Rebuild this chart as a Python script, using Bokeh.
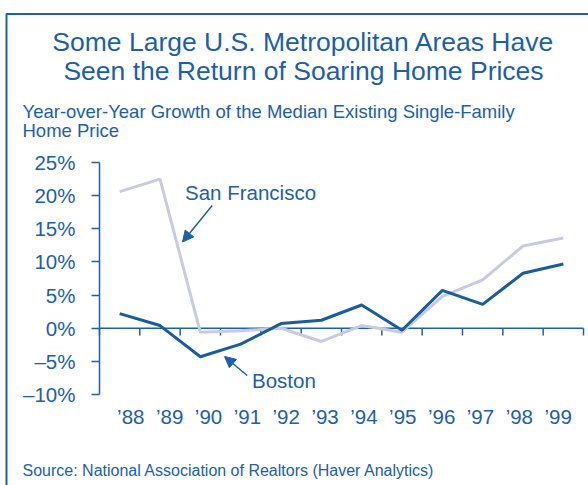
from bokeh.plotting import figure
from bokeh.models import (Label, Arrow, NormalHead, BoxAnnotation,
                          FixedTicker, Range1d, ColumnDataSource)
from bokeh.embed import file_html
from bokeh.resources import INLINE

# ---- data ----
years = [88, 89, 90, 91, 92, 93, 94, 95, 96, 97, 98, 99]
year_labels = ["\u201988", "\u201989", "\u201990", "\u201991", "\u201992", "\u201993",
               "\u201994", "\u201995", "\u201996", "\u201997", "\u201998", "\u201999"]
san_francisco = [20.6, 22.5, -0.6, -0.4, 0.0, -2.0, 0.4, -0.6, 4.8, 7.3, 12.4, 13.6]
boston = [2.2, 0.4, -4.3, -2.4, 0.7, 1.2, 3.5, -0.3, 5.7, 3.6, 8.3, 9.7]
y_ticks = [-10, -5, 0, 5, 10, 15, 20, 25]
y_tick_labels = ["\u201310%", "\u20135%", "0%", "5%", "10%", "15%", "20%", "25%"]

BLUE = "#1d60a8"
LINE_BLUE = "#195c9f"
LAVENDER = "#c8cae4"
FONT = "Liberation Sans"

W, H = 588, 485
x0, x1 = years[0] - 0.5, years[-1] + 0.5
y_lo, y_hi = y_ticks[0], y_ticks[-1]

# page-pixel -> data helpers (plot area spans page x 99..583, y 162..394)
def X(px):
    return x0 + (px - 99) * (x1 - x0) / (583 - 99)

def Y(py):
    return y_lo + (394 - py) * (y_hi - y_lo) / (394 - 162)

p = figure(width=W, height=H, output_backend="svg", toolbar_location=None,
           x_range=Range1d(X(0), X(W)), y_range=Range1d(Y(H), Y(0)),
           min_border=0)
p.outline_line_color = None
p.grid.visible = False
p.background_fill_color = "white"
p.border_fill_color = "white"

# y axis, fixed at the left edge of the plot area
ya = p.yaxis[0]
ya.fixed_location = x0
ya.bounds = (y_lo, y_hi)
ya.ticker = FixedTicker(ticks=y_ticks)
ya.major_label_overrides = dict(zip(y_ticks, y_tick_labels))
ya.axis_line_color = BLUE
ya.axis_line_width = 1.5
ya.major_tick_line_color = BLUE
ya.major_tick_line_width = 1.5
ya.major_tick_out = 8
ya.major_tick_in = 0
ya.minor_tick_line_color = None
ya.major_label_standoff = 16
ya.major_label_text_font = FONT
ya.major_label_text_font_size = "20.5px"
ya.major_label_text_color = BLUE

# x axis (labels only), fixed at the bottom of the plot area
n = len(years)
label_pos = [round(X(130.3 + i * (557.7 - 130.3) / (n - 1)), 4) for i in range(n)]
xa = p.xaxis[0]
xa.fixed_location = y_lo
xa.ticker = FixedTicker(ticks=label_pos)
xa.major_label_overrides = dict(zip(label_pos, year_labels))
xa.axis_line_color = None
xa.major_tick_line_color = None
xa.minor_tick_line_color = None
xa.major_label_standoff = 4
xa.major_label_text_font = FONT
xa.major_label_text_font_size = "20.5px"
xa.major_label_text_color = BLUE

# zero line with ticks at year boundaries
bounds = [y - 0.5 for y in years] + [years[-1] + 0.5]
p.segment(x0=[x0], y0=[0], x1=[x1], y1=[0], line_color=BLUE, line_width=1.5)
p.segment(x0=bounds, y0=[0] * len(bounds), x1=bounds, y1=[-1.1] * len(bounds),
          line_color=BLUE, line_width=1.5)

# series
src = ColumnDataSource(dict(year=years, sf=san_francisco, bos=boston))
p.line("year", "sf", source=src, line_color=LAVENDER, line_width=3)
p.line("year", "bos", source=src, line_color=LINE_BLUE, line_width=3)

# annotations (y = visual middle of the text)
p.add_layout(Label(x=X(184.5), y=Y(191.5), text="San Francisco", text_font=FONT,
                   text_baseline="middle", text_font_size="20.5px", text_color=BLUE))
p.add_layout(Arrow(x_start=X(211.7), y_start=Y(205), x_end=X(182), y_end=Y(241.5),
                   line_color=BLUE, line_width=1.5,
                   end=NormalHead(size=11, line_color=BLUE, fill_color=BLUE, line_width=1)))
p.add_layout(Label(x=X(251.5), y=Y(380), text="Boston", text_font=FONT,
                   text_baseline="middle", text_font_size="20.5px", text_color=BLUE))
p.add_layout(Arrow(x_start=X(246.7), y_start=Y(375), x_end=X(224), y_end=Y(356),
                   line_color=BLUE, line_width=1.5,
                   end=NormalHead(size=11, line_color=BLUE, fill_color=BLUE, line_width=1)))

# titles and texts
for txt, py in [("Some Large U.S. Metropolitan Areas Have", 41.5),
                ("Seen the Return of Soaring Home Prices", 70)]:
    p.add_layout(Label(x=X(303), y=Y(py), text=txt, text_align="center",
                       text_baseline="middle",
                       text_font=FONT, text_font_size="26.5px", text_color=BLUE))
for txt, py in [("Year-over-Year Growth of the Median Existing Single-Family", 111),
                ("Home Price", 130)]:
    p.add_layout(Label(x=X(22), y=Y(py), text=txt, text_font=FONT,
                       text_baseline="middle",
                       text_font_size="18.5px", text_color=BLUE))
p.add_layout(Label(x=X(22), y=Y(470), text="Source: National Association of Realtors (Haver Analytics)",
                   text_baseline="middle",
                   text_font=FONT, text_font_size="16px", text_color=BLUE))

# outer frame (left and top edges visible)
p.add_layout(BoxAnnotation(left=X(6), top=Y(13.5), right=X(800), bottom=Y(700),
                           fill_alpha=0, line_color=BLUE, line_alpha=1, line_width=2))

open("out.html", "w").write(file_html(p, INLINE))
